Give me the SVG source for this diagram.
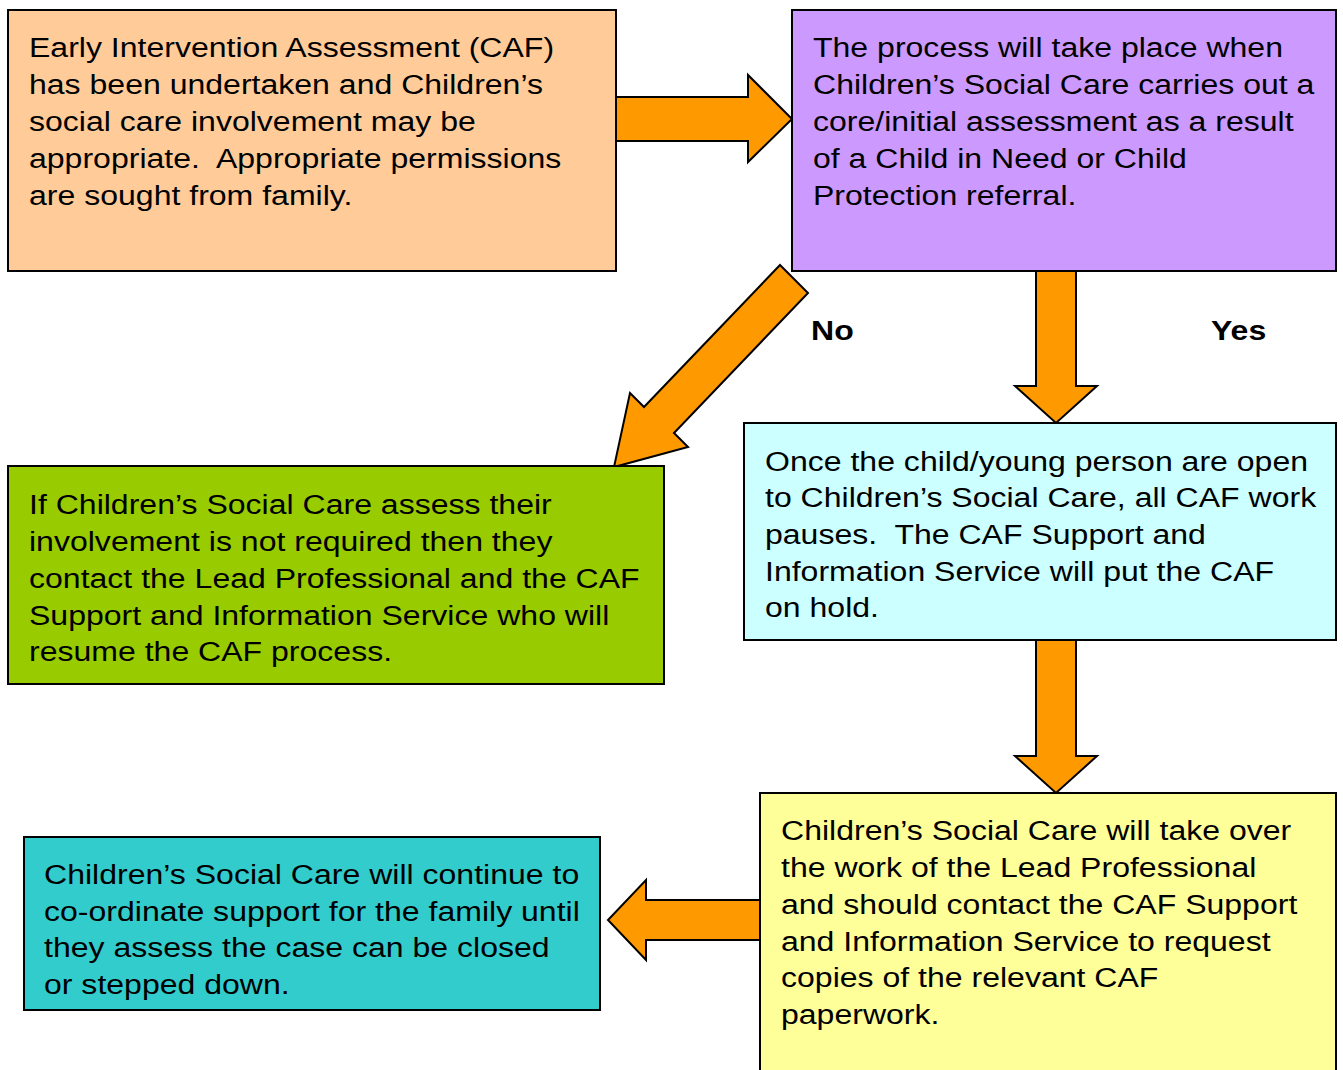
<svg xmlns="http://www.w3.org/2000/svg" width="1343" height="1070" viewBox="0 0 1343 1070">
  <style>
    .box { stroke: #000; stroke-width: 2; }
    .arrow { fill: #FF9900; stroke: #000; stroke-width: 2; stroke-linejoin: miter; }
    .t { font-family: "Liberation Sans", Arial, sans-serif; font-size: 28px; fill: #000; }
    .lbl { font-family: "Liberation Sans", Arial, sans-serif; font-size: 28px; font-weight: bold; fill: #000; }
  </style>
  <rect width="1343" height="1070" fill="#fff"/>

  <!-- connectors: block arrows -->
  <g id="connectors">
    <polygon class="arrow" points="616,97 748,97 748,75 792,119 748,162 748,141 616,141"/>
    <polygon class="arrow" points="780,265 808,293 674,433 688,447 614,467 630,393 644,407"/>
    <polygon class="arrow" points="1036,271 1076,271 1076,386 1097,386 1056,423 1015,386 1036,386"/>
    <polygon class="arrow" points="1036,640 1076,640 1076,756 1097,756 1056,793 1015,756 1036,756"/>
    <polygon class="arrow" points="760,900 646,900 646,880 608,920 646,960 646,940 760,940"/>
    <g transform="translate(811,0) scale(1.144,1)"><text class="lbl" x="0" y="340">No</text></g>
    <g transform="translate(1211,0) scale(1.144,1)"><text class="lbl" x="0" y="340">Yes</text></g>
  </g>

  <g id="caf-assessment">
    <rect class="box" x="8" y="10" width="608" height="261" fill="#FFCC99"/>
    <g transform="translate(29,0) scale(1.144,1)">
      <text class="t" xml:space="preserve">
        <tspan x="0" y="57">Early Intervention Assessment (CAF)</tspan>
        <tspan x="0" y="94">has been undertaken and Children’s</tspan>
        <tspan x="0" y="131">social care involvement may be</tspan>
        <tspan x="0" y="168">appropriate.  Appropriate permissions</tspan>
        <tspan x="0" y="205">are sought from family.</tspan>
      </text>
    </g>
  </g>

  <g id="core-assessment">
    <rect class="box" x="792" y="10" width="544" height="261" fill="#CC99FF"/>
    <g transform="translate(813,0) scale(1.144,1)">
      <text class="t" xml:space="preserve">
        <tspan x="0" y="57">The process will take place when</tspan>
        <tspan x="0" y="94">Children’s Social Care carries out a</tspan>
        <tspan x="0" y="131">core/initial assessment as a result</tspan>
        <tspan x="0" y="168">of a Child in Need or Child</tspan>
        <tspan x="0" y="205">Protection referral.</tspan>
      </text>
    </g>
  </g>

  <g id="not-required">
    <rect class="box" x="8" y="466" width="656" height="218" fill="#99CC00"/>
    <g transform="translate(29,0) scale(1.144,1)">
      <text class="t" xml:space="preserve">
        <tspan x="0" y="514">If Children’s Social Care assess their</tspan>
        <tspan x="0" y="551">involvement is not required then they</tspan>
        <tspan x="0" y="588">contact the Lead Professional and the CAF</tspan>
        <tspan x="0" y="625">Support and Information Service who will</tspan>
        <tspan x="0" y="661">resume the CAF process.</tspan>
      </text>
    </g>
  </g>

  <g id="caf-paused">
    <rect class="box" x="744" y="423" width="592" height="217" fill="#CCFFFF"/>
    <g transform="translate(765,0) scale(1.144,1)">
      <text class="t" xml:space="preserve">
        <tspan x="0" y="471">Once the child/young person are open</tspan>
        <tspan x="0" y="507">to Children’s Social Care, all CAF work</tspan>
        <tspan x="0" y="544">pauses.  The CAF Support and</tspan>
        <tspan x="0" y="581">Information Service will put the CAF</tspan>
        <tspan x="0" y="617">on hold.</tspan>
      </text>
    </g>
  </g>

  <g id="take-over">
    <rect class="box" x="760" y="793" width="576" height="290" fill="#FFFF99"/>
    <g transform="translate(781,0) scale(1.144,1)">
      <text class="t" xml:space="preserve">
        <tspan x="0" y="840">Children’s Social Care will take over</tspan>
        <tspan x="0" y="877">the work of the Lead Professional</tspan>
        <tspan x="0" y="914">and should contact the CAF Support</tspan>
        <tspan x="0" y="951">and Information Service to request</tspan>
        <tspan x="0" y="987">copies of the relevant CAF</tspan>
        <tspan x="0" y="1024">paperwork.</tspan>
      </text>
    </g>
  </g>

  <g id="coordinate-support">
    <rect class="box" x="24" y="837" width="576" height="173" fill="#33CCCC"/>
    <g transform="translate(44,0) scale(1.144,1)">
      <text class="t" xml:space="preserve">
        <tspan x="0" y="884">Children’s Social Care will continue to</tspan>
        <tspan x="0" y="921">co-ordinate support for the family until</tspan>
        <tspan x="0" y="957">they assess the case can be closed</tspan>
        <tspan x="0" y="994">or stepped down.</tspan>
      </text>
    </g>
  </g>
</svg>
